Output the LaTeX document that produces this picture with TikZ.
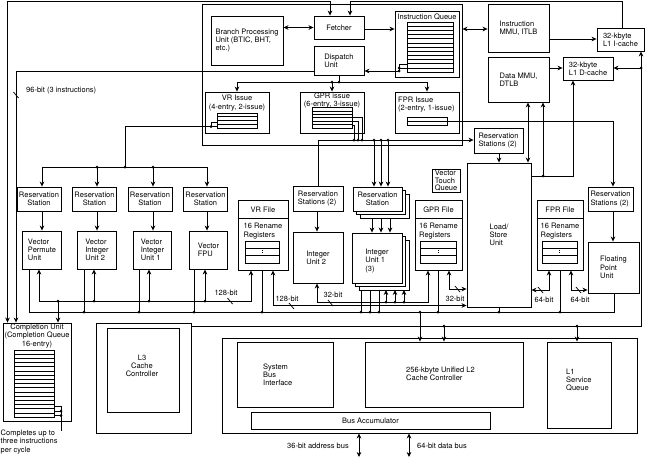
\documentclass[tikz,border=0pt]{standalone}
\usepackage{fontspec}
\setmainfont{TeX Gyre Heros}
\usetikzlibrary{arrows.meta,positioning,calc}

\tikzset{
  box/.style={draw, line width=0.9pt, inner sep=0pt, font=\fontsize{7.5}{8.2}\selectfont},
  sheet/.style={draw, line width=0.9pt, fill=white},
  lbl/.style={inner sep=0pt, font=\fontsize{7.5}{8.2}\selectfont},
  wire/.style={line width=0.75pt},
  entry/.style={line width=0.6pt},
  arr/.style={line width=0.75pt, -{Stealth[length=5pt,width=4.6pt]}},
  both/.style={line width=0.75pt, {Stealth[length=5pt,width=4.6pt]}-{Stealth[length=5pt,width=4.6pt]}},
}

\begin{document}
\begin{tikzpicture}[x=1pt, y=-1pt]
  \useasboundingbox (0,0) rectangle (647,459);

  % front end: fetch, branch, dispatch
  \node[box, minimum width=260, minimum height=141] (fe) at (332,74.5) {};
  \node[box, minimum width=72, minimum height=49, align=left] (bpu) at (247,40.5) {Branch Processing\\Unit (BTIC, BHT,\\etc.)};
  \node[box, minimum width=50, minimum height=23] (fetch) at (339,27.5) {Fetcher};
  \node[box, minimum width=64, minimum height=66] (iq) at (427,44) {};
  \node[lbl] (iqt) at (427,16.5) {Instruction Queue};
  \node[box, minimum width=50, minimum height=29, align=left] (disp) at (339,60.5) {Dispatch\\Unit};

  % issue queues
  \node[box, minimum width=64, minimum height=41] (vris) at (237,112.5) {};
  \node[lbl, align=center] (vrist) at (237,103) {VR Issue\\(4-entry, 2-issue)};
  \node[box, minimum width=64, minimum height=41] (gris) at (332,112.5) {};
  \node[lbl, align=center] (grist) at (332,100.5) {GPR issue\\(6-entry, 3-issue)};
  \node[box, minimum width=64, minimum height=41] (fris) at (427,112.5) {};
  \node[lbl, anchor=west, align=left] (frist) at (398,104.5) {FPR Issue\\(2-entry, 1-issue)};

  % queue entries
  \draw[entry] (407,22) rectangle (453,72);
  \foreach \k in {1,...,11} \draw[entry] (407,{22+\k*50/12}) -- (453,{22+\k*50/12});
  \draw[entry] (217,113) rectangle (257,128);
  \foreach \k in {1,2,3} \draw[entry] (217,{113+\k*3.75}) -- (257,{113+\k*3.75});
  \draw[entry] (312,107.5) rectangle (352,128);
  \foreach \k in {1,...,5} \draw[entry] (312,{107.5+\k*3.417}) -- (352,{107.5+\k*3.417});
  \draw[entry] (407,117.5) rectangle (447,125.5);
  \draw[entry] (407,121.5) -- (447,121.5);

  % MMUs and L1 caches
  \node[box, minimum width=61, minimum height=48, align=left] (immu) at (518.5,28) {Instruction\\MMU, ITLB};
  \node[box, minimum width=47, minimum height=23, align=left] (icache) at (620.5,39.5) {32-kbyte\\L1 I-cache};
  \node[box, minimum width=61, minimum height=45, align=left] (dmmu) at (518.5,79.5) {Data MMU,\\DTLB};
  \node[box, minimum width=50, minimum height=23, align=left] (dcache) at (588,68.5) {32-kbyte\\L1 D-cache};

  % load/store
  \node[box, minimum width=49, minimum height=25, align=left] (lsrs) at (498.5,140.5) {Reservation\\Stations (2)};
  \node[box, minimum width=64, minimum height=144, align=left] (lsu) at (499,235) {Load/\\Store\\Unit};
  \node[box, minimum width=28, minimum height=23, align=left, font=\fontsize{7.5}{7.7}\selectfont] (vtq) at (446,180.5) {Vector\\Touch\\Queue};

  % register files
  \foreach \nm/\cx/\w/\ttl/\rl/\rr in {vrf/263/50/VR File/245/279, gprf/438.5/47/GPR File/420/456, fprf/560/46/FPR File/542/577} {
    \node[box, minimum width=\w, minimum height=70] (\nm) at (\cx,235) {};
    \node[lbl] (\nm t) at (\cx,210) {\ttl};
    \draw[line width=0.9pt] (\nm.west |- 0,218) -- (\nm.east |- 0,218);
    \node[lbl, align=left] (\nm r) at (\cx,231) {16 Rename\\Registers};
    \draw[entry] (\rl,241) rectangle (\rr,263);
    \draw[entry] (\rl,248.3) -- (\rr,248.3);
    \draw[entry] (\rl,255.7) -- (\rr,255.7);
    \draw[entry, dotted] ({(\rl+\rr)/2},249.5) -- ({(\rl+\rr)/2},254.5);
  }

  % floating point
  \node[box, minimum width=45, minimum height=24, align=left] (fprs) at (610.5,199) {Reservation\\Stations (2)};
  \node[box, minimum width=51, minimum height=51, align=left] (fpu) at (613.5,267.5) {Floating\\Point\\Unit};

  % vector units
  \foreach \i/\cx in {1/39,2/94.5,3/150,4/205.5}
    \node[box, minimum width=44, minimum height=24, align=center] (vrs\i) at (\cx,199) {Reservation\\Station};
  \node[box, minimum width=38.5, minimum height=38, align=left] (vu1) at (42,250) {Vector\\Permute\\Unit};
  \node[box, minimum width=38.5, minimum height=38, align=left] (vu2) at (97,250) {Vector\\Integer\\Unit 2};
  \node[box, minimum width=38.5, minimum height=38, align=left] (vu3) at (152.5,250) {Vector\\Integer\\Unit 1};
  \node[box, minimum width=38.5, minimum height=38, align=left] (vu4) at (208.5,250) {Vector\\FPU};

  % integer units
  \node[box, minimum width=50, minimum height=25, align=left] (irs2) at (318,198.5) {Reservation\\Stations (2)};
  \node[box, minimum width=50, minimum height=51, align=left] (iu2) at (318,257.5) {Integer\\Unit 2};
  \foreach \d in {7,3.5} \draw[sheet] ({353+\d},{187+\d}) rectangle ({402+\d},{211+\d});
  \node[box, fill=white, minimum width=49, minimum height=24, align=center] (irs1) at (377.5,199) {Reservation\\Station};
  \foreach \d in {7,3.5} \draw[sheet] ({352+\d},{233+\d}) rectangle ({402+\d},{283+\d});
  \node[box, fill=white, minimum width=50, minimum height=50] (iu1) at (377,258) {};
  \node[lbl, align=left] (iu1t) at (377,261) {Integer\\Unit 1\\(3)};

  % completion unit
  \node[box, minimum width=68, minimum height=98] (comp) at (37,372) {};
  \node[lbl, align=center, font=\fontsize{7.5}{8.7}\selectfont] (compt) at (37,336) {Completion Unit\\(Completion Queue\\16-entry)};
  \draw[entry] (14,350) rectangle (54,417);
  \foreach \k in {1,...,15} \draw[entry] (14,{350+\k*67/16}) -- (54,{350+\k*67/16});
  \draw[wire] (54,406.5) -| (61,415.5) -- (54,415.5);
  \draw[wire] (54,411) -- (61,411);
  \fill (61,411) circle (1.5pt); \fill (61,415.5) circle (1.5pt);
  \coordinate (cnote) at (61,431);
  \draw[wire] (61,415.5) -- (cnote);
  \node[lbl, anchor=north west, align=left, font=\fontsize{7.5}{8.6}\selectfont] (compn) at (0.5,429.5) {Completes up to\\three instructions\\per cycle};

  % L3 and bus interface
  \node[box, minimum width=95, minimum height=110] (l3) at (143.5,378) {};
  \node[box, minimum width=72, minimum height=84] (l3c) at (143,370) {};
  \node[lbl, align=center] (l3t) at (142,366) {L3\\Cache\\Controller};
  \node[box, minimum width=415, minimum height=95] (biu) at (429.5,385.5) {};
  \node[box, minimum width=96, minimum height=65] (sbi) at (285,374.5) {};
  \node[lbl, anchor=west, align=left] (sbit) at (263,375) {System\\Bus\\Interface};
  \node[box, minimum width=158, minimum height=65] (l2) at (444,374.5) {};
  \node[lbl, anchor=west, align=left] (l2t) at (406,374) {256-kbyte Unified L2\\Cache Controller};
  \node[box, minimum width=239, minimum height=17] (bacc) at (370.5,420.5) {Bus Accumulator};
  \node[box, minimum width=64, minimum height=86] (l1sq) at (579,385) {};
  \node[lbl, anchor=west, align=left] (l1sqt) at (566,380) {L1\\Service\\Queue};
  \coordinate (abusend) at (359,457);
  \coordinate (dbusend) at (409,457);
  \draw[both] (biu.south -| abusend) -- (abusend);
  \draw[both] (biu.south -| dbusend) -- (dbusend);
  \node[lbl, anchor=east] (abus) at (349,446) {36-bit address bus};
  \node[lbl, anchor=west] (dbus) at (417,446) {64-bit data bus};

  % fetch paths
  \draw[both] (comp.north -| 7.5,0) |- (330,1.5) -- (fetch.north -| 330,0);
  \draw[arr] (icache.north -| 622,0) |- (350,1.5) -- (fetch.north -| 350,0);
  \draw[both] (bpu.east |- fetch.west) -- (fetch.west);
  \draw[arr] (fetch.east |- 0,29) -- (iq.west |- 0,29);
  \draw[both] (fe.east |- 0,29) -- (immu.west |- 0,29);

  % instruction queue to dispatch, dispatch to completion
  \draw[wire] (407,64) -| (399,71);
  \draw[wire] (407,68) -- (399,68);
  \fill (399,68) circle (1.5pt); \fill (399,71) circle (1.5pt);
  \draw[arr] (399,71) -- (disp.east |- 0,71);
  \draw[arr] (disp.west |- 0,71) -| (comp.north -| 16,0);
  \draw[wire] (13.5,92) -- (18.5,98);
  \node[lbl, anchor=west] (bw96) at (26,91) {96-bit (3 instructions)};

  % dispatch to issue queues
  \draw[wire] (disp.south -| 339,0) -- (339,82);
  \draw[arr] (339,82) -| (fris.north);
  \draw[arr] (339,82) -| (vris.north);
  \draw[arr] (gris.north |- 0,82) -- (gris.north);
  \fill (339,82) circle (1.5pt); \fill (332,82) circle (1.5pt);

  % VR issue to vector reservation stations
  \draw[wire] (217,122.4) -| (211,126.5) -- (217,126.5);
  \fill (211,126.5) circle (1.5pt);
  \draw[wire] (211,126.5) -| (125,167);
  \draw[wire] (42,167) -- (207,167);
  \foreach \i/\x in {1/42,2/97,3/153,4/207} {
    \draw[arr] (\x,167) -- (vrs\i.north -| \x,0);
    \draw[arr] (vrs\i.south -| \x,0) -- (vu\i.north -| \x,0);
  }
  \foreach \x in {97,125,153} \fill (\x,167) circle (1.5pt);

  % vector operand bus
  \draw[both] (vu1.south -| 39,0) |- (251,301) -- (vrf.south -| 251,0);
  \foreach \i/\x in {2/94,3/149,4/205} \draw[arr] (\x,301) -- (vu\i.south -| \x,0);
  \draw[arr] (58,301) -- (comp.north -| 58,0);
  \foreach \x in {58,94,149,205} \fill (\x,301) circle (1.5pt);
  \node[lbl] (bw128a) at (226,293) {128-bit};
  \draw[wire] (227.5,298) -- (232.5,304);

  % result bus
  \draw[wire] (vu1.south -| 29,0) |- (614,312) -- (fpu.south -| 614,0);
  \foreach \i/\x in {2/84,3/139,4/194} \draw[wire] (vu\i.south -| \x,0) -- (\x,312);
  \draw[wire] (vrf.south -| 262,0) -- (262,312);
  \foreach \x in {361,370,379} \draw[wire] (\x,290) -- (\x,312);
  \draw[wire] (gprf.south -| 438,0) -- (438,312);
  \draw[wire] (lsu.south -| 499,0) -- (499,312);
  \draw[wire] (fprf.south -| 560,0) -- (560,312);
  \foreach \x in {84,139,194,262,361,370,379,420,438,499,560} \fill (\x,312) circle (1.5pt);
  \draw[arr] (420,312) -- (l2.north -| 420,0);

  % VR file to load/store
  \draw[both] (vrf.south -| 273,0) |- (lsu.west |- 0,305.5);
  \node[lbl] (bw128b) at (287,299) {128-bit};
  \draw[wire] (289,303) -- (294,309);

  % integer operand bus
  \draw[both] (iu2.south -| 317,0) |- (428,302) -- (gprf.south -| 428,0);
  \foreach \x in {386,395,404} {
    \draw[arr] (\x,302) -- (\x,290);
    \fill (\x,302) circle (1.5pt);
  }
  \node[lbl] (bw32a) at (333,294.5) {32-bit};
  \draw[wire] (328,300) -- (333,306);

  % register files to load/store and FPU
  \draw[both] (gprf.south -| 449,0) |- (lsu.west |- 0,289);
  \draw[wire] (455,286) -- (460,292);
  \node[lbl] (bw32b) at (455,299) {32-bit};
  \draw[both] (fprf.south -| 549,0) |- (lsu.east |- 0,290);
  \draw[wire] (538,287) -- (543,293);
  \node[lbl] (bw64a) at (544,300) {64-bit};
  \draw[both] (fprf.south -| 571,0) |- (fpu.west |- 0,290);
  \draw[wire] (576,287) -- (581,293);
  \node[lbl] (bw64b) at (580,300) {64-bit};

  % load/store to MMU and D-cache
  \draw[arr] (lsrs.south -| 499,0) -- (lsu.north -| 499,0);
  \draw[both] (lsu.north -| 528,0) -- (dmmu.south -| 528,0);
  \draw[wire] (lsu.east |- 0,176) -- (543,176);
  \draw[arr] (543,176) -- (dmmu.south -| 543,0);
  \draw[arr] (543,176) -| (dcache.south -| 573,0);
  \fill (543,176) circle (1.5pt);

  % GPR issue to reservation stations
  \draw[wire] (352,117) -| (362,140);
  \draw[wire] (352,121) -| (358,140);
  \draw[wire] (352,125) -| (354,140);
  \draw[arr] (irs2.north) |- (lsrs.west |- 0,140);
  \foreach \x in {354,358,362,374,381,388} \fill (\x,140) circle (1.5pt);
  \foreach \x in {374,381,388} \draw[arr] (\x,140) -- (irs1.north -| \x,0);
  \foreach \x in {372,381,390} \draw[arr] (\x,218) -- (iu1.north -| \x,0);
  \draw[arr] (irs2.south -| 317,0) -- (iu2.north -| 317,0);

  % FPR issue to floating point
  \draw[arr] (447,121.5) -| (fprs.north -| 613,0);
  \draw[arr] (fprs.south -| 613,0) -- (fpu.north -| 613,0);

  % memory side
  \draw[arr] (immu.east |- 0,39) -- (icache.west |- 0,39);
  \draw[arr] (dmmu.east |- 0,68) -- (dcache.west |- 0,68);
  \draw[arr] (l3.east |- 0,326) -| (icache.south -| 641,0);
  \draw[arr] (641,68) -- (dcache.east |- 0,68);
  \fill (641,68) circle (1.5pt);
  \foreach \x/\n in {444/l2,577/l1sq} {
    \draw[arr] (\x,326) -- (\n.north -| \x,0);
    \fill (\x,326) circle (1.5pt);
  }
\end{tikzpicture}
\end{document}
